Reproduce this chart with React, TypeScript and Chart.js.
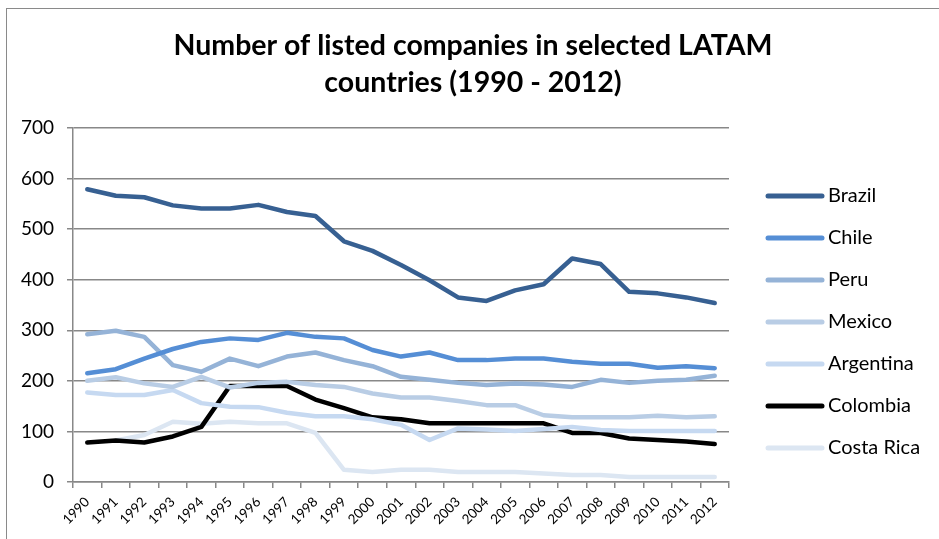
import React, { useEffect, useRef } from "react";
import { Chart, registerables } from "chart.js";

Chart.register(...registerables);

const years = [
  "1990", "1991", "1992", "1993", "1994", "1995", "1996", "1997", "1998", "1999", "2000",
  "2001", "2002", "2003", "2004", "2005", "2006", "2007", "2008", "2009", "2010", "2011", "2012",
];

const brazil = [579, 566, 563, 547, 541, 541, 548, 534, 526, 476, 457, 429, 399, 365, 358, 379, 391, 442, 431, 376, 373, 365, 354];
const chile = [215, 223, 244, 263, 277, 284, 281, 295, 287, 284, 261, 248, 256, 241, 241, 244, 244, 238, 234, 234, 226, 229, 225];
const peru = [292, 299, 287, 231, 218, 244, 229, 248, 256, 241, 229, 208, 202, 196, 192, 195, 193, 188, 202, 196, 200, 202, 210];
const mexico = [200, 207, 195, 188, 208, 187, 196, 198, 192, 188, 175, 167, 167, 160, 152, 152, 132, 128, 128, 128, 131, 128, 130];
const argentina = [177, 172, 172, 182, 156, 149, 148, 137, 130, 130, 124, 113, 83, 106, 104, 101, 105, 109, 103, 101, 101, 101, 101];
const colombia = [78, 82, 78, 90, 109, 190, 190, 190, 163, 146, 128, 124, 116, 116, 116, 116, 116, 97, 97, 86, 83, 80, 75];
const costaRica = [null, 82, 93, 119, 115, 119, 116, 116, 97, 24, 20, 24, 24, 20, 20, 20, 17, 14, 14, 10, 10, 10, 10];

const yTicks = [0, 100, 200, 300, 400, 500, 600, 700];
const titleLines = ["Number of listed companies in selected LATAM", "countries (1990 - 2012)"];

const seriesNames = ["Brazil", "Chile", "Peru", "Mexico", "Argentina", "Colombia", "Costa Rica"];
const seriesValues = [brazil, chile, peru, mexico, argentina, colombia, costaRica];
const seriesColors = ["#376092", "#558ed5", "#95b3d7", "#b9cde5", "#c6d9f1", "#000000", "#dce6f2"];

const FONT = "Lato, 'Open Sans', sans-serif";

const sideLegend = {
  id: "sideLegend",
  afterDraw(chart: any, _args: any, opts: any) {
    const ctx = chart.ctx;
    ctx.save();
    chart.data.datasets.forEach((ds: any, i: number) => {
      const y = opts.top + i * opts.gap;
      ctx.beginPath();
      ctx.strokeStyle = ds.borderColor;
      ctx.lineWidth = 5;
      ctx.lineCap = "round";
      ctx.moveTo(opts.x0, y);
      ctx.lineTo(opts.x1, y);
      ctx.stroke();
      ctx.fillStyle = "#000";
      ctx.font = `20px ${FONT}`;
      ctx.textBaseline = "middle";
      ctx.textAlign = "left";
      ctx.fillText(ds.label, opts.tx, y);
    });
    ctx.restore();
  },
};

const centerTitle = {
  id: "centerTitle",
  afterDraw(chart: any, _args: any, opts: any) {
    const ctx = chart.ctx;
    ctx.save();
    ctx.fillStyle = "#000";
    ctx.font = `bold ${opts.size}px ${FONT}`;
    ctx.textAlign = "center";
    ctx.textBaseline = "middle";
    opts.lines.forEach((line: string, i: number) => {
      ctx.fillText(line, opts.cx, opts.top + i * opts.gap);
    });
    ctx.restore();
  },
};

export default function App() {
  const ref = useRef<HTMLCanvasElement | null>(null);

  useEffect(() => {
    document.body.style.overflow = "hidden";
    if (!ref.current) return;
    const chart = new Chart(ref.current, {
      type: "line",
      data: {
        labels: years,
        datasets: seriesNames.map((name, i) => ({
          label: name,
          data: seriesValues[i],
          borderColor: seriesColors[i],
          backgroundColor: seriesColors[i],
          borderWidth: 4.5,
          pointRadius: 0,
          tension: 0,
          spanGaps: false,
          borderCapStyle: "round",
          borderJoinStyle: "round",
        })),
      },
      options: {
        responsive: false,
        animation: false,
        layout: { padding: { left: 0, right: 210, top: 119, bottom: 0 } },
        plugins: {
          legend: { display: false },
          tooltip: { enabled: false },
          title: { display: false },
          sideLegend: { x0: 761, x1: 815, tx: 821, top: 187, gap: 42 },
          centerTitle: { lines: titleLines, size: 28.5, cx: 466, top: 37, gap: 37 },
        } as any,
        scales: {
          x: {
            type: "category",
            offset: true,
            grid: {
              offset: true,
              drawOnChartArea: false,
              drawTicks: true,
              tickLength: 6,
              color: "#888",
              lineWidth: 1.5,
            },
            border: { color: "#888", width: 1.5 },
            ticks: {
              color: "#000",
              font: { family: FONT, size: 13.5 },
              minRotation: 45,
              maxRotation: 45,
              autoSkip: false,
              padding: 6,
            },
            afterFit(scale: any) {
              scale.height = 57;
            },
          },
          y: {
            min: 0,
            max: 700,
            afterBuildTicks(scale: any) {
              scale.ticks = yTicks.map((v) => ({ value: v }));
            },
            grid: { color: "#888", lineWidth: 1.5, tickLength: 6 },
            border: { color: "#888", width: 1.5 },
            ticks: {
              color: "#000",
              font: { family: FONT, size: 19 },
              padding: 13,
            },
            afterFit(scale: any) {
              scale.width = 66;
            },
          },
        },
      },
      plugins: [sideLegend, centerTitle],
    } as any);
    return () => chart.destroy();
  }, []);

  return (
    <div
      style={{
        position: "fixed",
        left: 6,
        top: 8,
        width: 950,
        height: 550,
        border: "1px solid #8a8a8a",
        boxSizing: "border-box",
        background: "#fff",
      }}
    >
      <canvas ref={ref} width={932} height={530} style={{ display: "block" }} />
    </div>
  );
}
